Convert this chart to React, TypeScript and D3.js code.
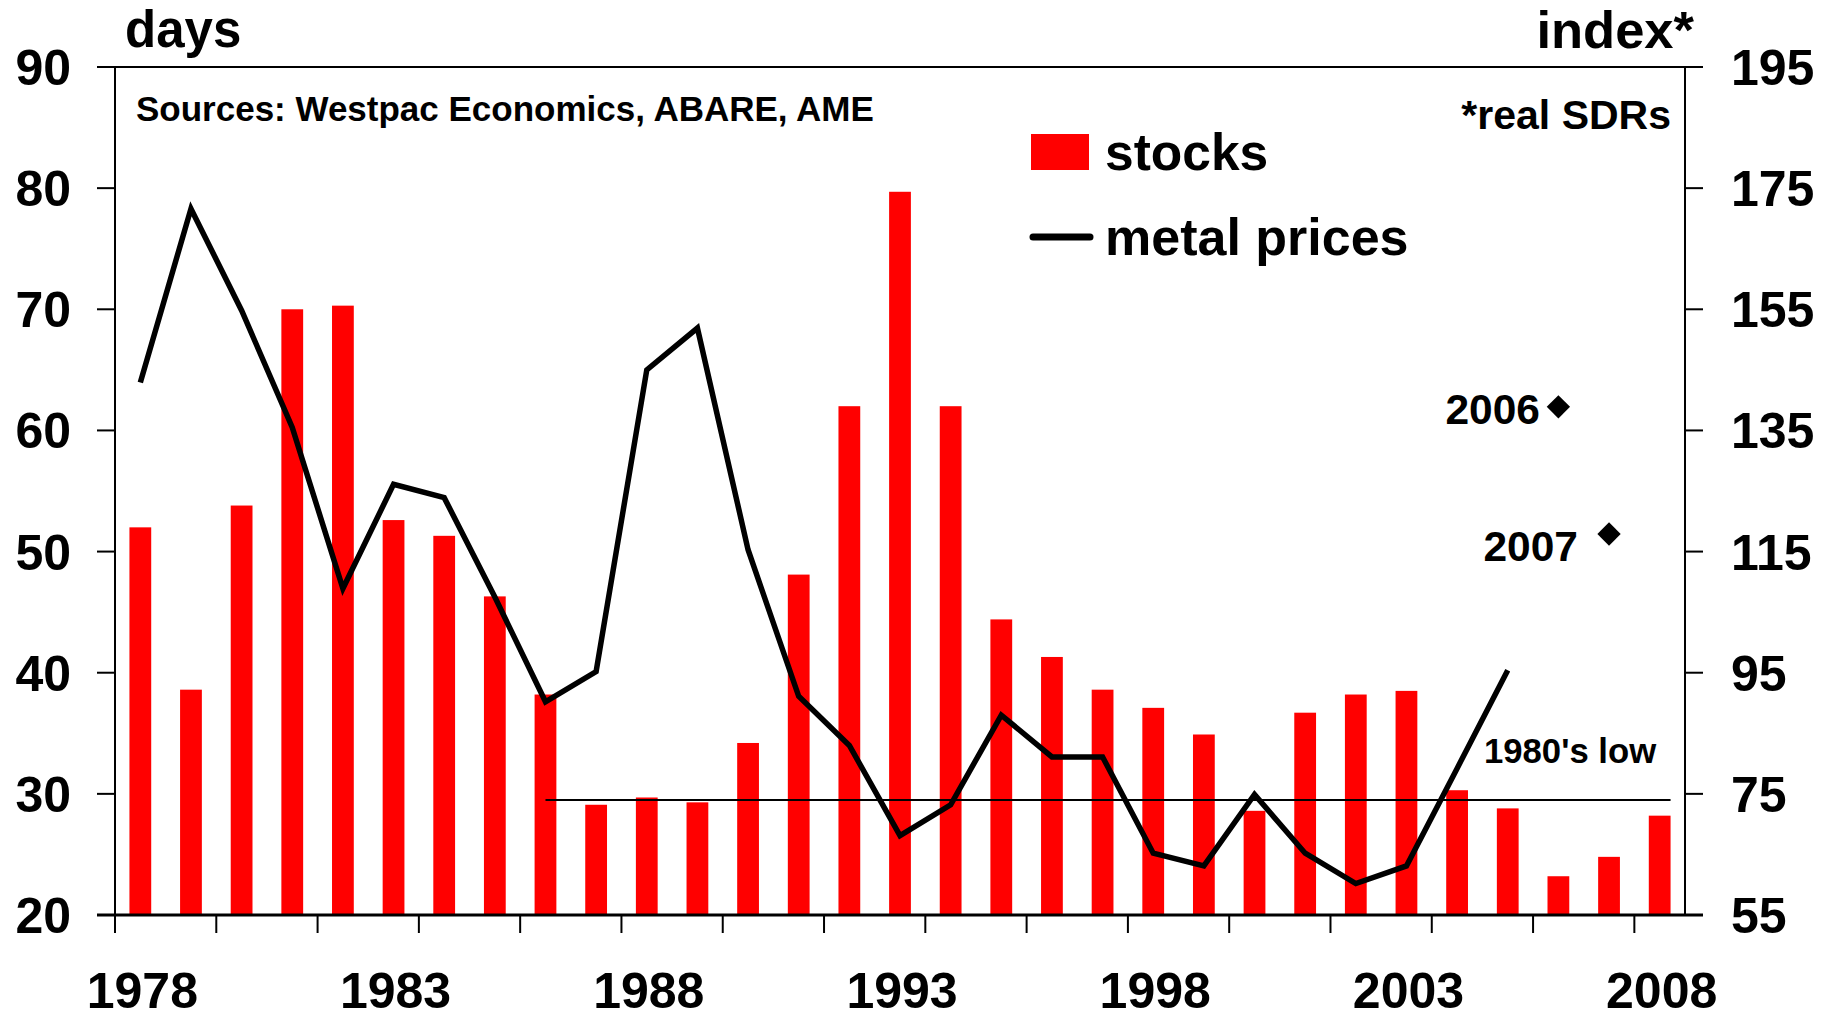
import React from "react";
import * as d3 from "d3";

const years: number[] = d3.range(1978, 2009);
const stocks: number[] = [
  52, 38.6, 53.8, 70, 70.3, 52.6, 51.3, 46.3, 38.2, 29.1, 29.7, 29.3, 34.2, 48.1,
  62, 79.7, 62, 44.4, 41.3, 38.6, 37.1, 34.9, 28.6, 36.7, 38.2, 38.5, 30.3, 28.8,
  23.2, 24.8, 28.2,
];
const priceYears: number[] = d3.range(1978, 2006);
const prices: number[] = [
  142.9, 171.6, 154.8, 135.5, 108.9, 126.1, 123.9, 107.5, 90.2, 95.2, 145, 151.9,
  115.3, 91.1, 83, 68.1, 73.2, 88, 81.1, 81.1, 65.2, 63.1, 74.9, 65.2, 60.2, 63.1,
  79.2, 95.4,
];
const forecastYears: number[] = [2006, 2007];
const forecastPrices: number[] = [138.9, 117.9];
const leftTicks: number[] = [20, 30, 40, 50, 60, 70, 80, 90];
const rightTicks: number[] = [55, 75, 95, 115, 135, 155, 175, 195];
const xLabelYears: number[] = [1978, 1983, 1988, 1993, 1998, 2003, 2008];
const lowValue = 29.5;
const lowStart = 1986;
const lowEnd = 2008;

const W = 1835;
const H = 1019;
const L = 115;
const R = 1685;
const T = 67;
const B = 915;
const FONT = "'Liberation Sans', Arial, sans-serif";

export default function App() {
  const x = d3.scaleBand<number>().domain(years).range([L, R]).padding(0);
  const bw = x.bandwidth();
  const barW = bw * 0.43;
  const cx = (y: number) => (x(y) as number) + bw / 2;
  const yL = d3.scaleLinear().domain([20, 90]).range([B, T]);
  const yR = d3.scaleLinear().domain([55, 195]).range([B, T]);
  const line = d3
    .line<number>()
    .x((_, i) => cx(priceYears[i]))
    .y((d) => yR(d));
  const diamond = d3.symbol().type(d3.symbolSquare).size(272)();
  const xTickYears = years.filter((y) => (y - 1978) % 2 === 0);

  return (
    <svg
      width={W}
      height={H}
      style={{ position: "absolute", left: 0, top: 0, background: "#fff" }}
      fontFamily={FONT}
      fontWeight="bold"
    >
      <rect x={0} y={0} width={W} height={H} fill="#fff" />
      {years.map((yr, i) => (
        <rect
          key={yr}
          x={cx(yr) - barW / 2}
          y={yL(stocks[i])}
          width={barW}
          height={B - yL(stocks[i])}
          fill="#ff0000"
        />
      ))}
      <line
        x1={cx(lowStart)}
        x2={cx(lowEnd) + barW / 2}
        y1={yL(lowValue)}
        y2={yL(lowValue)}
        stroke="#000"
        strokeWidth={2}
      />
      <path
        d={line(prices) || ""}
        fill="none"
        stroke="#000"
        strokeWidth={5.5}
        strokeLinejoin="miter"
      />
      {forecastYears.map((yr, i) => (
        <path
          key={yr}
          d={diamond || ""}
          transform={`translate(${cx(yr)},${yR(forecastPrices[i])}) rotate(45)`}
          fill="#000"
        />
      ))}
      <line x1={L - 18} x2={R + 18} y1={T} y2={T} stroke="#000" strokeWidth={2} />
      <line x1={L} x2={L} y1={T} y2={B} stroke="#000" strokeWidth={2} />
      <line x1={R} x2={R} y1={T} y2={B} stroke="#000" strokeWidth={2} />
      <line x1={L - 18} x2={R + 18} y1={B} y2={B} stroke="#000" strokeWidth={3} />
      {leftTicks.map((t) => (
        <g key={t}>
          <line x1={L - 18} x2={L} y1={yL(t)} y2={yL(t)} stroke="#000" strokeWidth={2} />
          <text x={71} y={yL(t)} dy="0.36em" textAnchor="end" fontSize={50}>
            {t}
          </text>
        </g>
      ))}
      {rightTicks.map((t) => (
        <g key={t}>
          <line x1={R} x2={R + 18} y1={yR(t)} y2={yR(t)} stroke="#000" strokeWidth={2} />
          <text x={1731} y={yR(t)} dy="0.36em" textAnchor="start" fontSize={50}>
            {t}
          </text>
        </g>
      ))}
      {xTickYears.map((yr) => (
        <line
          key={yr}
          x1={x(yr) as number}
          x2={x(yr) as number}
          y1={B}
          y2={B + 18}
          stroke="#000"
          strokeWidth={2}
        />
      ))}
      {xLabelYears.map((yr) => (
        <text key={yr} x={cx(yr) + 2} y={1008} textAnchor="middle" fontSize={50}>
          {yr}
        </text>
      ))}
      <text x={125} y={47} fontSize={51}>
        days
      </text>
      <text x={1694} y={48} fontSize={52.5} textAnchor="end">
        index*
      </text>
      <text x={136} y={121} fontSize={35}>
        Sources: Westpac Economics, ABARE, AME
      </text>
      <text x={1671} y={129} fontSize={41} textAnchor="end">
        *real SDRs
      </text>
      <rect x={1031} y={134} width={58} height={36} fill="#ff0000" />
      <text x={1105} y={170} fontSize={51.5}>
        stocks
      </text>
      <line
        x1={1033}
        x2={1090}
        y1={237}
        y2={237}
        stroke="#000"
        strokeWidth={7}
        strokeLinecap="round"
      />
      <text x={1105} y={255} fontSize={52}>
        metal prices
      </text>
      <text x={1540} y={424} fontSize={42.5} textAnchor="end">
        2006
      </text>
      <text x={1578} y={561} fontSize={42.5} textAnchor="end">
        2007
      </text>
      <text x={1484} y={763} fontSize={34.7}>
        1980's low
      </text>
    </svg>
  );
}
